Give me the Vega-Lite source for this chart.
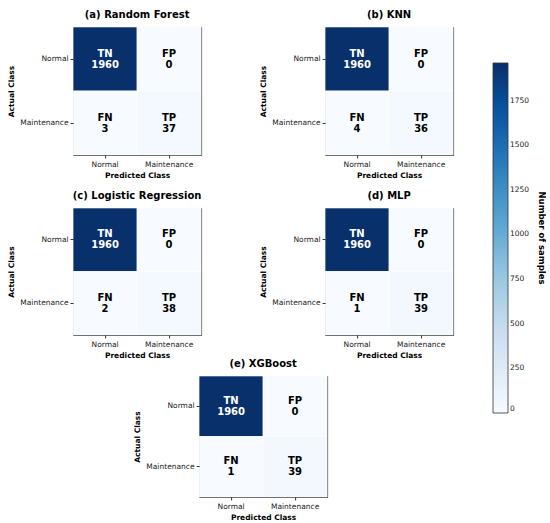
{
  "$schema": "https://vega.github.io/schema/vega-lite/v6.json",
  "padding": {"left": 7, "top": 9, "right": 0, "bottom": 0},
  "background": "white",
  "datasets": {
    "cm": [
      {"model": "Random Forest", "actual": "Normal", "predicted": "Normal", "cell": "TN", "count": 1960},
      {"model": "Random Forest", "actual": "Normal", "predicted": "Maintenance", "cell": "FP", "count": 0},
      {"model": "Random Forest", "actual": "Maintenance", "predicted": "Normal", "cell": "FN", "count": 3},
      {"model": "Random Forest", "actual": "Maintenance", "predicted": "Maintenance", "cell": "TP", "count": 37},
      {"model": "KNN", "actual": "Normal", "predicted": "Normal", "cell": "TN", "count": 1960},
      {"model": "KNN", "actual": "Normal", "predicted": "Maintenance", "cell": "FP", "count": 0},
      {"model": "KNN", "actual": "Maintenance", "predicted": "Normal", "cell": "FN", "count": 4},
      {"model": "KNN", "actual": "Maintenance", "predicted": "Maintenance", "cell": "TP", "count": 36},
      {"model": "Logistic Regression", "actual": "Normal", "predicted": "Normal", "cell": "TN", "count": 1960},
      {"model": "Logistic Regression", "actual": "Normal", "predicted": "Maintenance", "cell": "FP", "count": 0},
      {"model": "Logistic Regression", "actual": "Maintenance", "predicted": "Normal", "cell": "FN", "count": 2},
      {"model": "Logistic Regression", "actual": "Maintenance", "predicted": "Maintenance", "cell": "TP", "count": 38},
      {"model": "MLP", "actual": "Normal", "predicted": "Normal", "cell": "TN", "count": 1960},
      {"model": "MLP", "actual": "Normal", "predicted": "Maintenance", "cell": "FP", "count": 0},
      {"model": "MLP", "actual": "Maintenance", "predicted": "Normal", "cell": "FN", "count": 1},
      {"model": "MLP", "actual": "Maintenance", "predicted": "Maintenance", "cell": "TP", "count": 39},
      {"model": "XGBoost", "actual": "Normal", "predicted": "Normal", "cell": "TN", "count": 1960},
      {"model": "XGBoost", "actual": "Normal", "predicted": "Maintenance", "cell": "FP", "count": 0},
      {"model": "XGBoost", "actual": "Maintenance", "predicted": "Normal", "cell": "FN", "count": 1},
      {"model": "XGBoost", "actual": "Maintenance", "predicted": "Maintenance", "cell": "TP", "count": 39}
    ]
  },
  "vconcat": [
    {
      "vconcat": [
        {
          "hconcat": [
            {
              "data": {"name": "cm"},
              "title": "(a) Random Forest",
              "width": 128, "height": 128,
              "transform": [{"filter": {"field": "model", "equal": "Random Forest"}}],
              "encoding": {
                "x": {"field": "predicted", "type": "nominal", "sort": ["Normal", "Maintenance"], "scale": {"paddingInner": 0, "paddingOuter": 0}, "axis": {"title": "Predicted Class", "labelAngle": 0}},
                "y": {"field": "actual", "type": "nominal", "sort": ["Normal", "Maintenance"], "scale": {"paddingInner": 0, "paddingOuter": 0}, "axis": {"title": "Actual Class"}}
              },
              "layer": [
                {"mark": {"type": "rect", "stroke": "white", "strokeWidth": 0.6},
                 "encoding": {"color": {"field": "count", "type": "quantitative", "scale": {"domain": [0, 245, 490, 735, 980, 1225, 1470, 1715, 1960], "range": ["#f7fbff", "#deebf7", "#c6dbef", "#9ecae1", "#6baed6", "#4292c6", "#2171b5", "#08519c", "#08306b"], "interpolate": "rgb"}, "legend": {"title": "Number of samples", "orient": "none", "legendX": 420, "legendY": 36, "direction": "vertical", "gradientLength": 350, "gradientThickness": 15, "titleOrient": "right", "titleAnchor": "middle", "format": "d", "values": [0, 250, 500, 750, 1000, 1250, 1500, 1750]}}}},
                {"mark": {"type": "text", "fontSize": 10, "fontWeight": "bold", "dy": -5.5}, "encoding": {"text": {"field": "cell"}, "color": {"condition": {"test": "datum.count > 1000", "value": "white"}, "value": "black"}}},
                {"mark": {"type": "text", "fontSize": 10, "fontWeight": "bold", "dy": 5.5}, "encoding": {"text": {"field": "count", "type": "quantitative", "format": "d"}, "color": {"condition": {"test": "datum.count > 1000", "value": "white"}, "value": "black"}}}
              ]
            },
            {
              "data": {"name": "cm"},
              "title": "(b) KNN",
              "width": 128, "height": 128,
              "transform": [{"filter": {"field": "model", "equal": "KNN"}}],
              "encoding": {
                "x": {"field": "predicted", "type": "nominal", "sort": ["Normal", "Maintenance"], "scale": {"paddingInner": 0, "paddingOuter": 0}, "axis": {"title": "Predicted Class", "labelAngle": 0}},
                "y": {"field": "actual", "type": "nominal", "sort": ["Normal", "Maintenance"], "scale": {"paddingInner": 0, "paddingOuter": 0}, "axis": {"title": "Actual Class"}}
              },
              "layer": [
                {"mark": {"type": "rect", "stroke": "white", "strokeWidth": 0.6},
                 "encoding": {"color": {"field": "count", "type": "quantitative", "scale": {"domain": [0, 245, 490, 735, 980, 1225, 1470, 1715, 1960], "range": ["#f7fbff", "#deebf7", "#c6dbef", "#9ecae1", "#6baed6", "#4292c6", "#2171b5", "#08519c", "#08306b"], "interpolate": "rgb"}, "legend": {"title": "Number of samples", "orient": "none", "legendX": 420, "legendY": 36, "direction": "vertical", "gradientLength": 350, "gradientThickness": 15, "titleOrient": "right", "titleAnchor": "middle", "format": "d", "values": [0, 250, 500, 750, 1000, 1250, 1500, 1750]}}}},
                {"mark": {"type": "text", "fontSize": 10, "fontWeight": "bold", "dy": -5.5}, "encoding": {"text": {"field": "cell"}, "color": {"condition": {"test": "datum.count > 1000", "value": "white"}, "value": "black"}}},
                {"mark": {"type": "text", "fontSize": 10, "fontWeight": "bold", "dy": 5.5}, "encoding": {"text": {"field": "count", "type": "quantitative", "format": "d"}, "color": {"condition": {"test": "datum.count > 1000", "value": "white"}, "value": "black"}}}
              ]
            }
          ],
          "spacing": 57
        },
        {
          "hconcat": [
            {
              "data": {"name": "cm"},
              "title": "(c) Logistic Regression",
              "width": 128, "height": 127,
              "transform": [{"filter": {"field": "model", "equal": "Logistic Regression"}}],
              "encoding": {
                "x": {"field": "predicted", "type": "nominal", "sort": ["Normal", "Maintenance"], "scale": {"paddingInner": 0, "paddingOuter": 0}, "axis": {"title": "Predicted Class", "labelAngle": 0}},
                "y": {"field": "actual", "type": "nominal", "sort": ["Normal", "Maintenance"], "scale": {"paddingInner": 0, "paddingOuter": 0}, "axis": {"title": "Actual Class"}}
              },
              "layer": [
                {"mark": {"type": "rect", "stroke": "white", "strokeWidth": 0.6},
                 "encoding": {"color": {"field": "count", "type": "quantitative", "scale": {"domain": [0, 245, 490, 735, 980, 1225, 1470, 1715, 1960], "range": ["#f7fbff", "#deebf7", "#c6dbef", "#9ecae1", "#6baed6", "#4292c6", "#2171b5", "#08519c", "#08306b"], "interpolate": "rgb"}, "legend": {"title": "Number of samples", "orient": "none", "legendX": 420, "legendY": 36, "direction": "vertical", "gradientLength": 350, "gradientThickness": 15, "titleOrient": "right", "titleAnchor": "middle", "format": "d", "values": [0, 250, 500, 750, 1000, 1250, 1500, 1750]}}}},
                {"mark": {"type": "text", "fontSize": 10, "fontWeight": "bold", "dy": -5.5}, "encoding": {"text": {"field": "cell"}, "color": {"condition": {"test": "datum.count > 1000", "value": "white"}, "value": "black"}}},
                {"mark": {"type": "text", "fontSize": 10, "fontWeight": "bold", "dy": 5.5}, "encoding": {"text": {"field": "count", "type": "quantitative", "format": "d"}, "color": {"condition": {"test": "datum.count > 1000", "value": "white"}, "value": "black"}}}
              ]
            },
            {
              "data": {"name": "cm"},
              "title": "(d) MLP",
              "width": 128, "height": 127,
              "transform": [{"filter": {"field": "model", "equal": "MLP"}}],
              "encoding": {
                "x": {"field": "predicted", "type": "nominal", "sort": ["Normal", "Maintenance"], "scale": {"paddingInner": 0, "paddingOuter": 0}, "axis": {"title": "Predicted Class", "labelAngle": 0}},
                "y": {"field": "actual", "type": "nominal", "sort": ["Normal", "Maintenance"], "scale": {"paddingInner": 0, "paddingOuter": 0}, "axis": {"title": "Actual Class"}}
              },
              "layer": [
                {"mark": {"type": "rect", "stroke": "white", "strokeWidth": 0.6},
                 "encoding": {"color": {"field": "count", "type": "quantitative", "scale": {"domain": [0, 245, 490, 735, 980, 1225, 1470, 1715, 1960], "range": ["#f7fbff", "#deebf7", "#c6dbef", "#9ecae1", "#6baed6", "#4292c6", "#2171b5", "#08519c", "#08306b"], "interpolate": "rgb"}, "legend": {"title": "Number of samples", "orient": "none", "legendX": 420, "legendY": 36, "direction": "vertical", "gradientLength": 350, "gradientThickness": 15, "titleOrient": "right", "titleAnchor": "middle", "format": "d", "values": [0, 250, 500, 750, 1000, 1250, 1500, 1750]}}}},
                {"mark": {"type": "text", "fontSize": 10, "fontWeight": "bold", "dy": -5.5}, "encoding": {"text": {"field": "cell"}, "color": {"condition": {"test": "datum.count > 1000", "value": "white"}, "value": "black"}}},
                {"mark": {"type": "text", "fontSize": 10, "fontWeight": "bold", "dy": 5.5}, "encoding": {"text": {"field": "count", "type": "quantitative", "format": "d"}, "color": {"condition": {"test": "datum.count > 1000", "value": "white"}, "value": "black"}}}
              ]
            }
          ],
          "spacing": 57
        }
      ],
      "spacing": 10
    },
    {
      "data": {"name": "cm"},
      "title": "(e) XGBoost",
      "width": 128, "height": 121,
      "transform": [{"filter": {"field": "model", "equal": "XGBoost"}}],
      "encoding": {
        "x": {"field": "predicted", "type": "nominal", "sort": ["Normal", "Maintenance"], "scale": {"paddingInner": 0, "paddingOuter": 0}, "axis": {"title": "Predicted Class", "labelAngle": 0}},
        "y": {"field": "actual", "type": "nominal", "sort": ["Normal", "Maintenance"], "scale": {"paddingInner": 0, "paddingOuter": 0}, "axis": {"title": "Actual Class"}}
      },
      "layer": [
        {"mark": {"type": "rect", "stroke": "white", "strokeWidth": 0.6},
         "encoding": {"color": {"field": "count", "type": "quantitative", "scale": {"domain": [0, 245, 490, 735, 980, 1225, 1470, 1715, 1960], "range": ["#f7fbff", "#deebf7", "#c6dbef", "#9ecae1", "#6baed6", "#4292c6", "#2171b5", "#08519c", "#08306b"], "interpolate": "rgb"}, "legend": {"title": "Number of samples", "orient": "none", "legendX": 420, "legendY": 36, "direction": "vertical", "gradientLength": 350, "gradientThickness": 15, "titleOrient": "right", "titleAnchor": "middle", "format": "d", "values": [0, 250, 500, 750, 1000, 1250, 1500, 1750]}}}},
        {"mark": {"type": "text", "fontSize": 10, "fontWeight": "bold", "dy": -5.5}, "encoding": {"text": {"field": "cell"}, "color": {"condition": {"test": "datum.count > 1000", "value": "white"}, "value": "black"}}},
        {"mark": {"type": "text", "fontSize": 10, "fontWeight": "bold", "dy": 5.5}, "encoding": {"text": {"field": "count", "type": "quantitative", "format": "d"}, "color": {"condition": {"test": "datum.count > 1000", "value": "white"}, "value": "black"}}}
      ]
    }
  ],
  "spacing": -2,
  "center": true,
  "resolve": {"scale": {"color": "shared"}},
  "config": {
    "font": "DejaVu Sans",
    "view": {"stroke": "#333333", "strokeWidth": 1},
    "axis": {"labelFontSize": 7.5, "labelColor": "#222222", "titleFontSize": 7.5, "titleFontWeight": "bold", "titleColor": "#000000", "tickColor": "#333333", "tickSize": 3, "labelPadding": 2, "titlePadding": 4, "domain": false, "grid": false},
    "title": {"fontSize": 10, "fontWeight": "bold", "frame": "group", "offset": 7, "color": "#000000"},
    "legend": {"labelFontSize": 7.5, "labelColor": "#222222", "titleFontSize": 8.5, "titleFontWeight": "bold", "titleColor": "#000000", "titlePadding": 8, "titleAngle": 270, "gradientStrokeColor": "#333333", "gradientStrokeWidth": 0.8, "labelOffset": 5}
  }
}
